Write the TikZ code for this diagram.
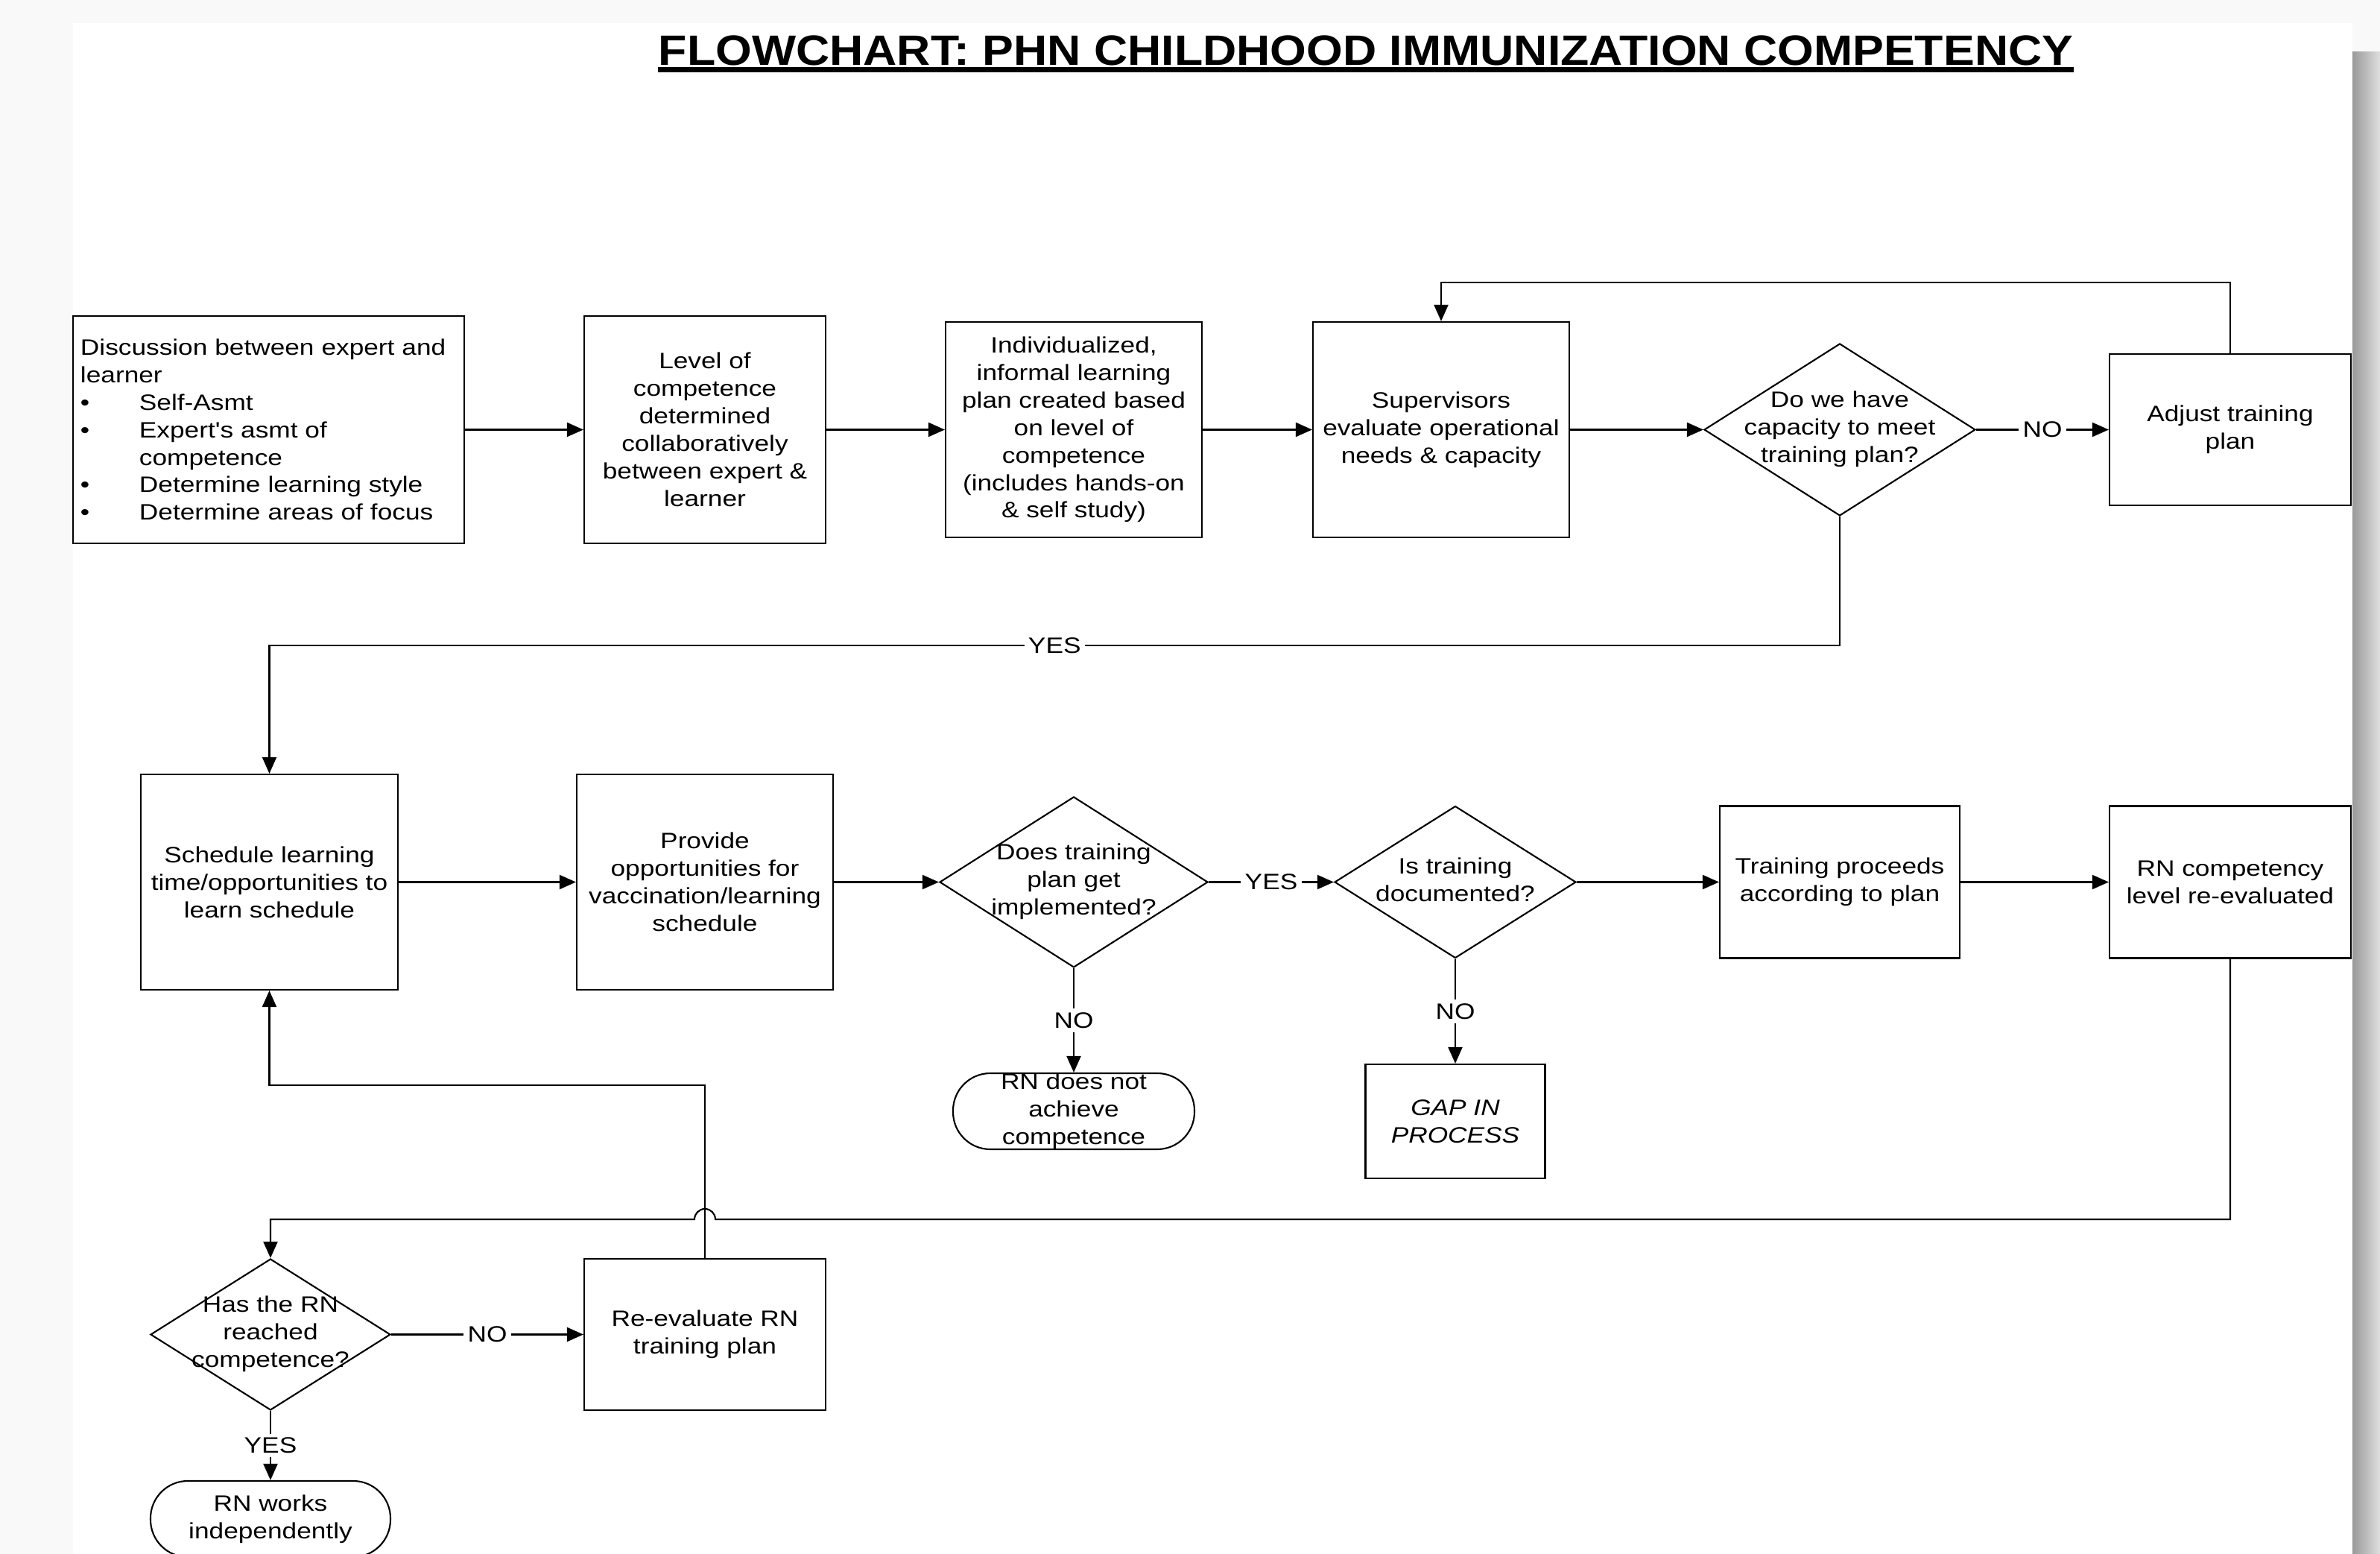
\documentclass[tikz,border=0pt]{standalone}
\usepackage{fontspec}
\setmainfont{Liberation Sans}
\newfontfamily\boxfont{Liberation Sans}[FakeStretch=1.18]
\newfontfamily\titlefont{Liberation Sans}[FakeStretch=1.1]
\usetikzlibrary{shapes.geometric, arrows.meta, calc}
\newcommand{\dtext}[1]{\makebox[0pt]{\begin{tabular}{@{}c@{}}#1\end{tabular}}}
\newcommand{\bul}{\makebox[0.79cm][l]{\textbullet}}

\begin{document}
\begin{tikzpicture}[>={Triangle[length=0.22cm, width=0.19cm]}, line width=0.6pt,
	txt/.style={font=\boxfont\fontsize{8.5}{10.5}\selectfont},
	box/.style={txt, draw, align=center, inner sep=0.1cm},
	decision/.style={txt, draw, diamond, inner sep=0pt},
	terminal/.style={txt, draw, align=center, inner sep=0pt, rounded corners=0.5cm},
	lbl/.style={txt, fill=white, inner sep=1.5pt}]
			% Page
			\useasboundingbox (0,0) rectangle (31.94,-20.85);
			\fill[gray!5] (0,0) rectangle (31.94,-20.85);
			\shade[left color=gray!80, right color=gray!25] (31.57,-0.7) rectangle (31.94,-20.85);
			\fill[white] (0.98,-0.31) rectangle (31.57,-20.85);
			
			% Title
			\node[font=\titlefont\bfseries\fontsize{16.2}{19}\selectfont, anchor=base, inner sep=0pt] (title) at (18.33,-0.88) {FLOWCHART: PHN CHILDHOOD IMMUNIZATION COMPETENCY};
			\draw[line width=2pt] ([yshift=-0.055cm]title.base west) -- ([yshift=-0.055cm]title.base east);
			
			% Row 1
			\node[box, text width=5.05cm, align=left, minimum height=3.05cm] (disc) at (3.605,-5.765) {Discussion between expert and\\learner\\\bul Self-Asmt\\\bul Expert's asmt of\\\hspace*{0.79cm}competence\\\bul Determine learning style\\\bul Determine areas of focus};
			\node[box, minimum width=3.24cm, minimum height=3.05cm] (level) at (9.46,-5.765) {Level of\\competence\\determined\\collaboratively\\between expert \&\\learner};
			\node[box, minimum width=3.44cm, minimum height=2.89cm] (plan) at (14.41,-5.765) {Individualized,\\informal learning\\plan created based\\on level of\\competence\\(includes hands-on\\\& self study)};
			\node[box, minimum width=3.44cm, minimum height=2.89cm] (superv) at (19.34,-5.765) {Supervisors\\evaluate operational\\needs \& capacity};
			\node[decision, minimum width=3.64cm, minimum height=2.31cm] (capacity) at (24.69,-5.765) {\dtext{Do we have\\capacity to meet\\training plan?}};
			\node[box, minimum width=3.24cm, minimum height=2.03cm] (adjust) at (29.93,-5.765) {Adjust training\\plan};
			
			% Row 2
			\node[box, minimum width=3.45cm, minimum height=2.89cm] (sched) at (3.615,-11.835) {Schedule learning\\time/opportunities to\\learn schedule};
			\node[box, minimum width=3.44cm, minimum height=2.89cm] (provide) at (9.46,-11.835) {Provide\\opportunities for\\vaccination/learning\\schedule};
			\node[decision, minimum width=3.6cm, minimum height=2.29cm] (implem) at (14.41,-11.835) {\dtext{Does training\\plan get\\implemented?}};
			\node[decision, minimum width=3.24cm, minimum height=2.04cm] (docu) at (19.53,-11.835) {\dtext{Is training\\documented?}};
			\node[box, minimum width=3.22cm, minimum height=2.04cm] (proceeds) at (24.69,-11.835) {Training proceeds\\according to plan};
			\node[box, minimum width=3.24cm, minimum height=2.04cm] (reeval) at (29.93,-11.835) {RN competency\\level re-evaluated};
			\node[terminal, minimum width=3.24cm, minimum height=1.02cm] (notach) at (14.41,-14.91) {RN does not\\achieve\\competence};
			\node[box, minimum width=2.41cm, minimum height=1.53cm, font=\boxfont\fontsize{8.5}{10.5}\selectfont\itshape] (gap) at (19.53,-15.045) {GAP IN\\PROCESS};
			
			% Row 3
			\node[decision, minimum width=3.22cm, minimum height=2.03cm] (reached) at (3.63,-17.905) {\dtext{Has the RN\\reached\\competence?}};
			\node[box, minimum width=3.24cm, minimum height=2.03cm] (revise) at (9.46,-17.905) {Re-evaluate RN\\training plan};
			\node[terminal, minimum width=3.22cm, minimum height=1.02cm] (indep) at (3.63,-20.38) {RN works\\independently};
			
			% Rails
			\coordinate (toprail) at (0,-3.79);
			\coordinate (yesrail) at (0,-8.66);
			\coordinate (backrail) at (0,-14.56);
			\coordinate (lowrail) at (0,-16.36);
			
			% Connectors
			\draw[->] (disc) -- (level);
			\draw[->] (level) -- (plan);
			\draw[->] (plan) -- (superv);
			\draw[->] (superv) -- (capacity);
			\draw[->] (capacity) -- node[lbl] {NO} (adjust);
			\draw[->] (adjust.north) -- (adjust.north |- toprail) -- (superv.north |- toprail) -- (superv.north);
			\draw[->] (capacity.south) -- (capacity.south |- yesrail) -- node[lbl] {YES} (sched.north |- yesrail) -- (sched.north);
			\draw[->] (sched) -- (provide);
			\draw[->] (provide) -- (implem);
			\draw[->] (implem) -- node[lbl] {YES} (docu);
			\draw[->] (docu) -- (proceeds);
			\draw[->] (proceeds) -- (reeval);
			\draw[->] (implem) -- node[lbl] {NO} (notach);
			\draw[->] (docu) -- node[lbl] {NO} (gap);
			\draw[->] (reeval.south) -- (reeval.south |- lowrail) -- ($(revise.north |- lowrail)+(0.14,0)$) arc[start angle=0, end angle=180, radius=0.14cm] -- (reached.north |- lowrail) -- (reached.north);
			\draw[->] (revise.north) -- (revise.north |- backrail) -- (sched.south |- backrail) -- (sched.south);
			\draw[->] (reached) -- node[lbl] {NO} (revise);
			\draw[->] (reached) -- node[lbl] {YES} (indep);
		\end{tikzpicture}
\end{document}
